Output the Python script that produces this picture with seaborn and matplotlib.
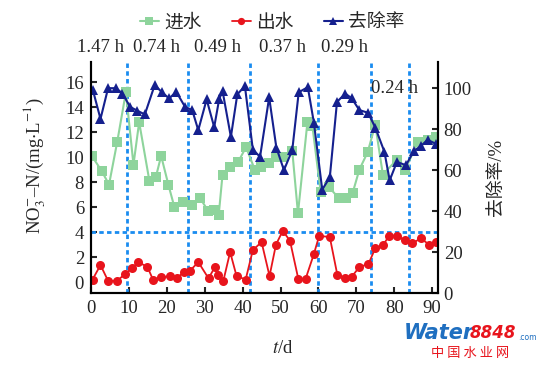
import matplotlib
matplotlib.use("Agg")
import matplotlib.pyplot as plt
import seaborn as sns

# influent NO3--N (mg/L)
days_in = [0.2, 2.8, 4.75, 6.9, 9.2, 11.2, 12.7, 15.4, 17.1, 18.5, 20.4, 22.0, 24.4, 26.6,
           28.8, 30.9, 32.4, 33.7, 34.7, 36.8, 38.8, 40.9, 43.2, 44.8, 47.0, 48.7, 50.7,
           53.1, 54.6, 57.1, 58.4, 60.6, 62.8, 65.4, 67.4, 69.0, 70.8, 73.0, 75.0, 77.0,
           80.7, 82.9, 86.2, 88.8, 91.0]
inflow = [10.1, 8.9, 7.8, 11.2, 15.2, 9.4, 12.8, 8.1, 8.4, 10.1, 7.8, 6.0, 6.4, 6.2,
          6.7, 5.7, 5.8, 5.4, 8.6, 9.2, 9.6, 10.8, 9.0, 9.2, 9.5, 10.0, 10.0,
          10.5, 5.5, 12.8, 12.5, 7.2, 7.6, 6.7, 6.7, 7.1, 9.0, 10.4, 12.6, 8.6,
          9.8, 9.0, 11.2, 11.4, 11.6]

# effluent NO3--N (mg/L)
days_out = [0.4, 2.5, 4.5, 6.9, 9.0, 10.8, 12.5, 14.9, 16.4, 18.4, 20.8, 22.6, 24.5, 26.1,
            28.3, 31.0, 32.7, 33.4, 34.9, 36.7, 38.4, 40.8, 42.7, 45.0, 47.1, 48.8, 50.6,
            52.5, 54.7, 56.6, 58.8, 60.2, 63.0, 65.0, 67.0, 68.8, 70.8, 73.2, 75.0, 77.0,
            78.7, 80.6, 82.8, 84.8, 87.0, 89.2, 91.0]
outflow = [0.2, 1.36, 0.1, 0.1, 0.65, 1.1, 1.6, 1.2, 0.16, 0.4, 0.45, 0.3, 0.8, 0.9,
           1.6, 0.3, 1.2, 0.56, 0.08, 2.4, 0.48, 0.2, 2.56, 3.2, 0.48, 3.0, 4.1,
           3.3, 0.24, 0.24, 2.24, 3.7, 3.6, 0.56, 0.35, 0.43, 1.2, 1.45, 2.7, 2.95,
           3.7, 3.7, 3.35, 3.1, 3.5, 3.0, 3.2]

# removal rate (%)
days_rate = [0.5, 2.5, 4.5, 6.6, 8.3, 10.3, 12.2, 14.2, 16.8, 18.6, 20.6, 22.5, 24.8, 26.7,
             28.3, 30.5, 32.5, 33.8, 34.7, 36.9, 38.6, 40.6, 42.7, 44.6, 47.0, 48.9, 50.9,
             53.1, 54.8, 57.2, 58.8, 61.0, 63.0, 64.9, 67.1, 68.8, 70.8, 73.1, 75.0, 77.4,
             78.8, 80.7, 83.1, 85.2, 87.0, 88.8, 91.0]
removal = [99, 85, 100, 100, 97.4, 90.9, 89, 87.2, 101.5, 98.2, 95, 98.2, 90.9, 89.3,
           79.5, 94.5, 81, 94.5, 98.7, 76.2, 97, 101, 70, 66.5, 95.5, 71, 60,
           69.8, 98, 100.5, 83.2, 50.5, 56.4, 93.3, 97.4, 95, 89.3, 88, 80.8, 69,
           55, 64, 62.4, 69.4, 71.7, 74.8, 72.8]

hrt_labels = ["1.47 h", "0.74 h", "0.49 h", "0.37 h", "0.29 h"]
hrt_x = [2.4, 17.3, 33.4, 50.6, 66.9]
last_hrt = "0.24 h"
phase_edges = [9.5, 25.6, 42.0, 59.9, 73.9, 83.9]

sns.set_style("ticks")
plt.rcParams["font.family"] = ["Liberation Serif", "Noto Sans CJK SC"]
plt.rcParams["mathtext.fontset"] = "stix"
plt.rcParams["axes.linewidth"] = 1.5

green = "#8ed49c"
red = "#e8141c"
navy = "#15208e"
dash = "#1a8cf0"
fs = 13.5

fig = plt.figure(figsize=(5.37, 3.70), dpi=100)
ax = fig.add_axes([0.1695, 0.208, 0.6465, 0.624])
ax2 = ax.twinx()

for xv in phase_edges:
    ax.axvline(xv, color=dash, ls=(0, (1.6, 1.2)), lw=2, zorder=1)
ax.axhline(4, color=dash, ls=(0, (1.6, 1.2)), lw=2, zorder=1)

sns.lineplot(x=days_in, y=inflow, ax=ax, color=green, marker="s", markersize=7.5,
             markeredgewidth=0, lw=1.5, estimator=None, sort=False, label="进水", legend=False)
sns.lineplot(x=days_out, y=outflow, ax=ax, color=red, marker="o", markersize=6.5,
             markeredgewidth=0, lw=1.3, estimator=None, sort=False, label="出水", legend=False)
sns.lineplot(x=days_rate, y=removal, ax=ax2, color=navy, marker="^", markersize=6.5,
             markeredgewidth=0, lw=1.5, estimator=None, sort=False, label="去除率", legend=False)

ax.set_xlim(0, 91.6)
ax.set_ylim(-0.88, 17.6)
ax2.set_ylim(0, 112.7)
ax.set_xticks(range(0, 91, 10))
ax.set_yticks(range(0, 17, 2))
ax2.set_yticks(range(0, 101, 20))

for a in (ax, ax2):
    a.spines["top"].set_visible(False)
    for s in a.spines.values():
        s.set_color("black")
ax.tick_params(axis="both", direction="in", length=4, width=1.5, labelsize=fs, pad=5)
ax2.tick_params(axis="y", direction="in", length=4, width=1.5, labelsize=fs, pad=4)

ax.set_xlabel(r"$t$/d", fontsize=fs)
ax.xaxis.set_label_coords(0.553, -0.205)
ax.set_ylabel(r"NO$_3^{-}$–N/(mg$\cdot$L$^{-1}$)", fontsize=fs)
ax.yaxis.set_label_coords(-0.125, 0.55)
ax2.set_ylabel("去除率/%", fontsize=fs)
ax2.yaxis.set_label_coords(1.145, 0.5)

for lab, xv in zip(hrt_labels, hrt_x):
    ax.text(xv, 18.8, lab, fontsize=fs, ha="center", va="center", clip_on=False)
ax.text(80.0, 15.5, last_hrt, fontsize=fs, ha="center", va="center")

h1, l1 = ax.get_legend_handles_labels()
h2, l2 = ax2.get_legend_handles_labels()
fig.legend(h1 + h2, l1 + l2, loc="center", bbox_to_anchor=(0.507, 0.938), ncol=3,
           frameon=False, fontsize=fs, handlelength=1.0, handletextpad=0.3,
           columnspacing=1.6, markerscale=0.8)

# site watermark
fig.text(404 / 537, 1 - 333 / 370, "Water", color="#1f6fc0", fontsize=15, fontweight="bold",
         style="italic", family="DejaVu Sans", va="center")
fig.text(470 / 537, 1 - 333 / 370, "8848", color=red, fontsize=12, fontweight="bold",
         style="italic", family="DejaVu Sans", va="center")
fig.text(518 / 537, 1 - 338 / 370, ".com", color="#1f6fc0", fontsize=5.5,
         family="DejaVu Sans", va="center")
fig.text(470 / 537, 1 - 354 / 370, "中 国 水 业 网", color=red, fontsize=9.5,
         family="Noto Sans CJK SC", ha="center", va="center")

fig.savefig("out.png", dpi=100)
